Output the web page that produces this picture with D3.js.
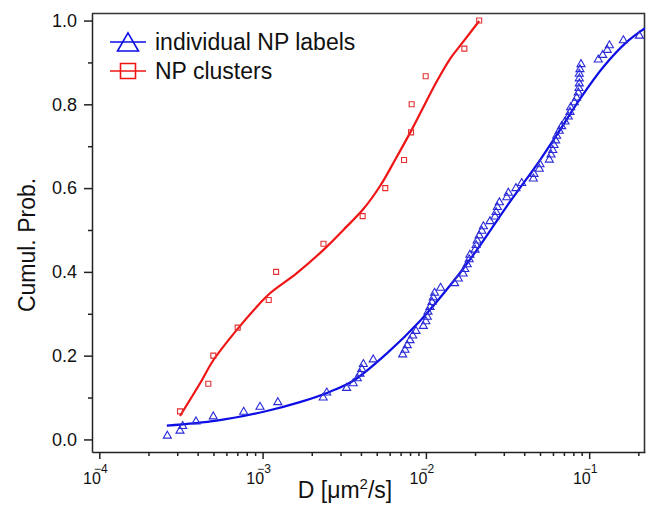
<!DOCTYPE html>
<html lang="en">
  <head>
    <meta charset="utf-8">
    <title>Cumul_Prob_D</title>
    <script src="https://d3js.org/d3.v7.js"></script>
    <style>
      html, body { margin: 0; padding: 0; background: white; overflow: hidden; }
      svg { display: block; }
      text { font-family: "Liberation Sans", Arial, sans-serif; fill: #111; }
    </style>
  </head>

  <body>
    <script>
      // individual NP labels (triangles), D in um^2/s and cumulative probability
      const singleD = [2.61e-4, 3.12e-4, 3.24e-4, 3.91e-4, 4.99e-4, 7.66e-4, 9.64e-4, 1.24e-3, 2.35e-3, 2.47e-3,
                       3.27e-3, 3.59e-3, 3.80e-3, 3.95e-3, 4.05e-3, 4.14e-3, 4.76e-3, 7.21e-3, 7.45e-3, 7.69e-3,
                       7.99e-3, 8.30e-3, 8.70e-3, 9.64e-3, 1.00e-2, 1.02e-2, 1.03e-2, 1.06e-2, 1.09e-2, 1.11e-2,
                       1.13e-2, 1.23e-2, 1.50e-2, 1.58e-2, 1.69e-2, 1.73e-2, 1.79e-2, 1.84e-2, 1.86e-2, 2.00e-2,
                       2.03e-2, 2.06e-2, 2.12e-2, 2.20e-2, 2.25e-2, 2.47e-2, 2.65e-2, 2.69e-2, 2.74e-2, 2.82e-2,
                       3.13e-2, 3.20e-2, 3.56e-2, 3.86e-2, 4.55e-2, 4.59e-2, 4.95e-2, 5.00e-2, 5.70e-2, 5.84e-2,
                       5.98e-2, 6.09e-2, 6.23e-2, 6.32e-2, 6.56e-2, 6.78e-2, 7.11e-2, 7.45e-2, 7.63e-2, 7.70e-2,
                       8.11e-2, 8.38e-2, 8.58e-2, 8.66e-2, 8.70e-2, 8.70e-2, 8.70e-2, 8.78e-2, 8.91e-2, 1.137e-1,
                       1.21e-1, 1.29e-1, 1.33e-1, 1.62e-1, 2.03e-1];
      const singleP = [0.011, 0.023, 0.034, 0.045, 0.057, 0.068, 0.080, 0.091, 0.102, 0.114,
                       0.125, 0.136, 0.148, 0.159, 0.170, 0.182, 0.193, 0.205, 0.216, 0.227,
                       0.239, 0.250, 0.261, 0.273, 0.284, 0.295, 0.307, 0.318, 0.330, 0.341,
                       0.352, 0.364, 0.375, 0.386, 0.398, 0.409, 0.420, 0.432, 0.443, 0.455,
                       0.466, 0.477, 0.489, 0.500, 0.511, 0.523, 0.534, 0.545, 0.557, 0.568,
                       0.580, 0.591, 0.602, 0.614, 0.625, 0.636, 0.648, 0.659, 0.670, 0.682,
                       0.693, 0.705, 0.716, 0.727, 0.739, 0.750, 0.761, 0.773, 0.784, 0.795,
                       0.807, 0.818, 0.830, 0.841, 0.852, 0.864, 0.875, 0.886, 0.898, 0.909,
                       0.920, 0.932, 0.943, 0.955, 0.966];

      // fit line for individual NP labels
      const singleFitD = [2.59e-4, 5.24e-4, 1.06e-3, 1.69e-3, 2.59e-3, 3.59e-3, 5.75e-3, 9.2e-3, 1.47e-2,
                          2.05e-2, 3.12e-2, 5.0e-2, 6.33e-2, 8.79e-2, 1.22e-1, 1.70e-1, 2.197e-1];
      const singleFitP = [0.033, 0.045, 0.068, 0.089, 0.114, 0.140, 0.205, 0.283, 0.377,
                          0.452, 0.556, 0.667, 0.727, 0.813, 0.889, 0.949, 0.982];

      // NP clusters (squares)
      const clusterD = [3.12e-4, 4.65e-4, 4.99e-4, 7.04e-4, 1.09e-3, 1.21e-3, 2.36e-3, 4.1e-3,
                        5.64e-3, 7.35e-3, 8.11e-3, 8.18e-3, 9.97e-3, 1.72e-2, 2.12e-2];
      const clusterP = [0.067, 0.133, 0.200, 0.267, 0.333, 0.400, 0.467, 0.533,
                        0.600, 0.667, 0.733, 0.800, 0.867, 0.933, 1.000];

      // fit line for NP clusters
      const clusterFitD = [3.12e-4, 4.14e-4, 4.99e-4, 6.93e-4, 9.64e-4, 1.11e-3, 1.62e-3, 2.35e-3, 3.27e-3,
                           4.14e-3, 5.24e-3, 6.47e-3, 8.18e-3, 9.87e-3, 1.19e-2, 1.42e-2, 1.69e-2, 2.12e-2];
      const clusterFitP = [0.056, 0.134, 0.189, 0.261, 0.325, 0.349, 0.397, 0.452, 0.508,
                           0.550, 0.605, 0.667, 0.739, 0.801, 0.861, 0.911, 0.949, 0.999];

      const xMajorTicks = [1e-4, 1e-3, 1e-2, 1e-1];
      const xTickExponents = ["\u22124", "\u22123", "\u22122", "\u22121"];
      const yMajorTicks = [0.0, 0.2, 0.4, 0.6, 0.8, 1.0];
      const yMinorTicks = [0.1, 0.3, 0.5, 0.7, 0.9];
      const legendLabels = ["individual NP labels", "NP clusters"];

      const blue = "#0d0de6";
      const red = "#f01515";

      const w = 646;
      const h = 505;
      const margin = {top: 13, right: 1, bottom: 53, left: 92};
      const innerWidth = w - margin.left - margin.right;
      const innerHeight = h - margin.top - margin.bottom;

      const xScale = d3.scaleLog()
                       .domain([9.02e-5, 0.2197])
                       .range([0, innerWidth]);

      const yScale = d3.scaleLinear()
                       .domain([-0.03, 1.018])
                       .range([innerHeight, 0]);

      const svg = d3.select("body")
                    .append("svg")
                    .attr("width", w)
                    .attr("height", h);

      svg.append("rect")
         .attr("width", w)
         .attr("height", h)
         .attr("fill", "white");

      svg.append("defs")
         .append("clipPath")
         .attr("id", "clip")
         .append("rect")
         .attr("width", innerWidth)
         .attr("height", innerHeight);

      const plot = svg.append("g")
                      .attr("transform", `translate(${margin.left},${margin.top})`);

      // add axes (minor ticks first, then major ticks)

      const xMinor = xScale.ticks().filter(v => Math.abs(Math.log10(v) - Math.round(Math.log10(v))) > 1e-6);

      plot.append("g")
          .attr("transform", `translate(0,${innerHeight})`)
          .call(d3.axisBottom(xScale).tickValues(xMinor).tickSize(4).tickSizeOuter(0))
          .call(g => g.select(".domain").remove())
          .call(g => g.selectAll(".tick text").remove());

      const xAxisG = plot.append("g")
                         .attr("transform", `translate(0,${innerHeight})`)
                         .call(d3.axisBottom(xScale).tickValues(xMajorTicks).tickSize(7).tickSizeOuter(0));

      // 10 with a raised exponent
      xAxisG.attr("font-family", null).attr("font-size", null);
      xAxisG.selectAll(".tick text").remove();
      xAxisG.selectAll(".tick")
            .append("text")
            .attr("x", 1)
            .attr("y", 32)
            .attr("text-anchor", "end")
            .attr("font-size", 16)
            .text("10");
      xAxisG.selectAll(".tick")
            .append("text")
            .attr("x", 1)
            .attr("y", 21)
            .attr("font-size", 12)
            .text((d, i) => xTickExponents[i]);

      plot.append("g")
          .call(d3.axisLeft(yScale).tickValues(yMinorTicks).tickSize(4).tickSizeOuter(0))
          .call(g => g.select(".domain").remove())
          .call(g => g.selectAll(".tick text").remove());

      const yAxisG = plot.append("g")
                         .call(d3.axisLeft(yScale).tickValues(yMajorTicks).tickSize(8).tickPadding(7)
                                 .tickSizeOuter(0).tickFormat(d3.format(".1f")));

      yAxisG.attr("font-family", null).attr("font-size", 18);

      plot.selectAll(".domain, .tick line")
          .attr("stroke", "#222")
          .attr("stroke-width", 1.5);

      // frame top and right

      plot.append("path")
          .attr("d", `M0,0.5H${innerWidth - 0.5}V${innerHeight}`)
          .attr("fill", "none")
          .attr("stroke", "#333")
          .attr("stroke-width", 1.6);

      // axis titles

      svg.append("text")
         .attr("x", 345)
         .attr("y", 498)
         .attr("text-anchor", "middle")
         .attr("font-size", 23)
         .call(t => {
           t.append("tspan").text("D [\u03bcm");
           t.append("tspan").attr("font-size", 15).attr("dy", -9).text("2");
           t.append("tspan").attr("dy", 9).text("/s]");
         });

      svg.append("text")
         .attr("transform", "translate(35,245) rotate(-90)")
         .attr("text-anchor", "middle")
         .attr("font-size", 23)
         .text("Cumul. Prob.");

      // fit lines

      const line = d3.line()
                     .x(d => xScale(d[0]))
                     .y(d => yScale(d[1]))
                     .curve(d3.curveCatmullRom.alpha(0.5));

      const data = plot.append("g").attr("clip-path", "url(#clip)");

      data.append("path")
          .attr("d", line(d3.zip(singleFitD, singleFitP)))
          .attr("fill", "none")
          .attr("stroke", blue)
          .attr("stroke-width", 2.2);

      data.append("path")
          .attr("d", line(d3.zip(clusterFitD, clusterFitP)))
          .attr("fill", "none")
          .attr("stroke", red)
          .attr("stroke-width", 2.2);

      // points

      data.selectAll(".tri")
          .data(d3.zip(singleD, singleP))
          .enter().append("path")
          .attr("class", "tri")
          .attr("transform", d => `translate(${xScale(d[0])},${yScale(d[1]) + 1})`)
          .attr("d", d3.symbol(d3.symbolTriangle, 28))
          .attr("fill", "none")
          .attr("stroke", "#2a2ad8")
          .attr("stroke-width", 1.1);

      data.selectAll(".sq")
          .data(d3.zip(clusterD, clusterP))
          .enter().append("path")
          .attr("class", "sq")
          .attr("transform", d => `translate(${xScale(d[0])},${yScale(d[1])})`)
          .attr("d", d3.symbol(d3.symbolSquare, 25))
          .attr("fill", "none")
          .attr("stroke", "#e43030")
          .attr("stroke-width", 1.1);

      // legend

      const legend = svg.append("g");
      const legendColors = [blue, red];
      const legendSymbols = [d3.symbolTriangle, d3.symbolSquare];
      const legendSizes = [190, 225];

      legendLabels.forEach((label, i) => {
        const cy = 42 + i * 29;
        legend.append("line")
              .attr("x1", 110).attr("x2", 146)
              .attr("y1", cy).attr("y2", cy)
              .attr("stroke", legendColors[i])
              .attr("stroke-width", 1.6);
        legend.append("path")
              .attr("transform", `translate(128,${cy + (i === 0 ? 3 : 0)})`)
              .attr("d", d3.symbol(legendSymbols[i], legendSizes[i]))
              .attr("fill", "none")
              .attr("stroke", legendColors[i])
              .attr("stroke-width", 1.6);
        legend.append("text")
              .attr("x", 155)
              .attr("y", cy + 8)
              .attr("font-size", 23)
              .text(label);
      });
    </script>
  </body>
</html>
